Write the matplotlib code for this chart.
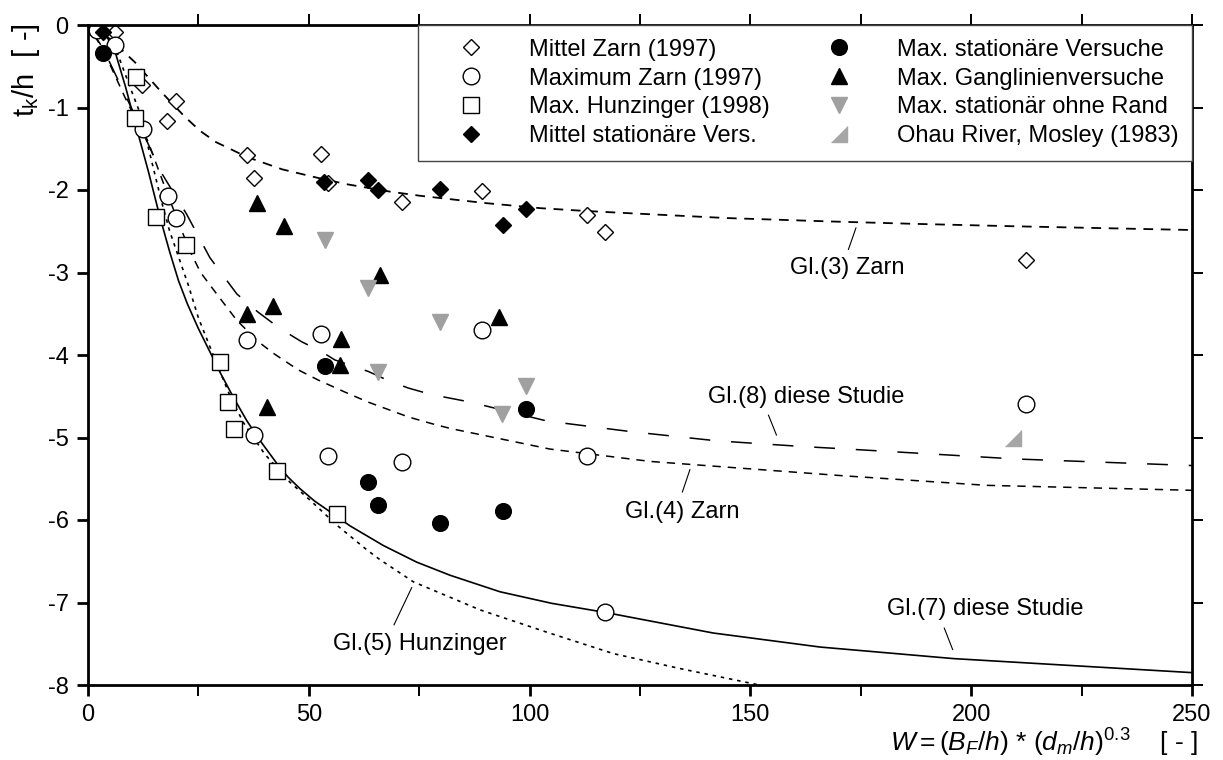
import matplotlib
matplotlib.use("Agg")
import matplotlib.pyplot as plt

plt.rcParams['font.family'] = ['Liberation Sans', 'DejaVu Sans']
plt.rcParams['mathtext.fontset'] = 'custom'
plt.rcParams['mathtext.rm'] = 'Liberation Sans'
plt.rcParams['mathtext.it'] = 'Liberation Sans:italic'
plt.rcParams['axes.unicode_minus'] = False
plt.rcParams['lines.scale_dashes'] = False

# measured points
mz_x = [2.0, 6.1, 12.2, 19.9, 18.0, 35.9, 37.6, 52.8, 54.3, 71.2, 89.3, 113.1, 117.1, 212.3]
mz_y = [0.0, -0.09, -0.73, -0.92, -1.16, -1.58, -1.85, -1.56, -1.91, -2.14, -2.01, -2.30, -2.51, -2.85]

maxz_x = [2.0, 6.1, 12.4, 18.2, 19.9, 36.1, 52.8, 37.7, 54.4, 71.2, 89.3, 113.1, 117.1, 212.3]
maxz_y = [-0.06, -0.24, -1.26, -2.07, -2.34, -3.82, -3.74, -4.97, -5.23, -5.30, -3.70, -5.22, -7.12, -4.60]

hunz_x = [10.9, 10.6, 15.3, 22.2, 29.9, 31.8, 33.1, 42.9, 56.3]
hunz_y = [-0.63, -1.13, -2.33, -2.67, -4.09, -4.57, -4.90, -5.41, -5.93]

mstat_x = [3.3, 53.5, 63.3, 65.6, 79.7, 99.1, 93.9]
mstat_y = [-0.09, -1.90, -1.88, -2.00, -1.99, -2.23, -2.42]

maxstat_x = [3.5, 53.7, 63.3, 65.7, 79.7, 94.0, 99.2]
maxstat_y = [-0.34, -4.13, -5.54, -5.82, -6.04, -5.89, -4.65]

gang_x = [38.3, 44.3, 35.9, 41.8, 57.4, 57.1, 40.5, 66.1, 93.1]
gang_y = [-2.16, -2.44, -3.50, -3.41, -3.80, -4.12, -4.63, -3.03, -3.54]

rand_x = [53.7, 63.3, 79.7, 65.7, 99.2, 93.8]
rand_y = [-2.60, -3.19, -3.60, -4.21, -4.38, -4.71]

ohau_x = [209.5]
ohau_y = [-5.01]

# curves
gl3_x = [0, 3, 6, 10.6, 16.4, 21.7, 25.3, 29.0, 36.0, 44.0, 51.8, 58.6, 68.4, 75.2, 83.5,
         90.3, 102.4, 111.4, 122, 144.6, 167.3, 186.9, 210, 250]
gl3_y = [0, -0.08, -0.22, -0.45, -0.80, -1.10, -1.28, -1.42, -1.60, -1.75, -1.85, -1.93, -2.02,
         -2.07, -2.12, -2.16, -2.22, -2.25, -2.28, -2.34, -2.38, -2.41, -2.44, -2.485]

gl4_x = [0, 3, 6, 9, 13.5, 18, 22.9, 25.5, 29, 33.7, 38.6, 42, 47.6, 52, 58.2, 63.4, 72.5,
         77.7, 82, 104.6, 127.3, 149.9, 170, 203.5, 250]
gl4_y = [0, -0.25, -0.6, -0.95, -1.4, -2.05, -2.72, -3.0, -3.25, -3.58, -3.84, -3.98, -4.18,
         -4.30, -4.45, -4.57, -4.75, -4.83, -4.89, -5.14, -5.29, -5.38, -5.46, -5.58, -5.64]

gl8_x = [0, 4, 8, 12, 16.5, 22.3, 27.6, 33.7, 38.5, 43.5, 48.4, 52.9, 55.9, 63.5, 67.6, 72.5,
         77.8, 86.5, 103.9, 123.1, 142.3, 162, 172, 210, 250]
gl8_y = [0, -0.35, -0.8, -1.25, -1.78, -2.29, -2.82, -3.26, -3.48, -3.68, -3.84, -3.96, -4.06,
         -4.20, -4.30, -4.40, -4.48, -4.57, -4.80, -4.93, -5.04, -5.11, -5.14, -5.26, -5.34]

gl7_x = [0, 2, 4, 6, 8.5, 11, 13.7, 16.3, 18.5, 20.5, 22.5, 25, 27.5, 30, 33, 36, 39, 42.7,
         45.3, 48, 51.3, 54.8, 59.3, 66.9, 74.4, 82, 93.3, 105, 117.1, 141.6, 165.8, 196, 250]
gl7_y = [0, -0.03, -0.12, -0.3, -0.75, -1.25, -1.78, -2.33, -2.75, -3.10, -3.38, -3.68, -3.95,
         -4.22, -4.52, -4.80, -5.04, -5.31, -5.48, -5.62, -5.77, -5.90, -6.07, -6.31, -6.51,
         -6.67, -6.87, -7.01, -7.12, -7.37, -7.54, -7.68, -7.85]

gl5_x = [0, 3, 6, 10, 11.8, 13.5, 16.7, 18.5, 22.7, 25, 29.1, 32.2, 35.2, 40, 45.7, 50.3, 56.3,
         63.1, 66.1, 73.7, 88.8, 103.9, 119, 134, 152]
gl5_y = [0, -0.05, -0.25, -0.82, -1.07, -1.45, -2.15, -2.5, -3.15, -3.55, -4.10, -4.5, -4.82,
         -5.2, -5.54, -5.76, -6.06, -6.36, -6.48, -6.75, -7.09, -7.36, -7.62, -7.80, -8.0]

fig = plt.figure(figsize=(12.23, 7.6), dpi=100)
ax = fig.add_axes([88/1223, 75/760, 1104/1223, 660/760])

ax.plot(gl3_x, gl3_y, color='black', lw=1.3, dashes=(7, 5.5))
ax.plot(gl4_x, gl4_y, color='black', lw=1.1, dashes=(6, 5))
ax.plot(gl8_x, gl8_y, color='black', lw=1.1, dashes=(15, 15))
ax.plot(gl7_x, gl7_y, color='black', lw=1.2)
ax.plot(gl5_x, gl5_y, color='black', lw=1.2, dashes=(2.5, 3.5))

gray = '#a0a0a0'
ms = 12
ax.plot(mz_x, mz_y, 'D', ms=8.2, mfc='white', mec='black', mew=1, ls='none', label='Mittel Zarn (1997)')
ax.plot(maxz_x, maxz_y, 'o', ms=ms, mfc='white', mec='black', mew=1, ls='none', label='Maximum Zarn (1997)')
ax.plot(hunz_x, hunz_y, 's', ms=ms, mfc='white', mec='black', mew=1, ls='none', label='Max. Hunzinger (1998)')
ax.plot(mstat_x, mstat_y, 'D', ms=8.2, color='black', ls='none', label='Mittel stationäre Vers.')
ax.plot(maxstat_x, maxstat_y, 'o', ms=11.3, color='black', ls='none', label='Max. stationäre Versuche')
ax.plot(gang_x, gang_y, '^', ms=ms, color='black', ls='none', label='Max. Ganglinienversuche')
ax.plot(rand_x, rand_y, 'v', ms=ms, color=gray, ls='none', label='Max. stationär ohne Rand')
ax.plot(ohau_x, ohau_y, marker=[(-1, -1), (1, -1), (1, 1)], ms=ms, color='#a6a6a6', ls='none',
        label='Ohau River, Mosley (1983)')

leg = ax.legend(ncol=2, loc='upper right', bbox_to_anchor=(1, 1), borderaxespad=0,
                fancybox=False, framealpha=1, edgecolor='#444444', fontsize=17,
                numpoints=1, handlelength=3.32, handletextpad=0.8, columnspacing=1.25,
                labelspacing=0.29, borderpad=0.58)
leg.get_frame().set_linewidth(1.0)

# curve labels with leader lines
labels = [
    ('Gl.(3) Zarn', 172, -2.95, [173.9, 172.2], [-2.46, -2.72]),
    ('Gl.(8) diese Studie', 162.7, -4.505, [154.1, 155.9], [-4.73, -4.97]),
    ('Gl.(4) Zarn', 134.6, -5.9, [136.3, 134.6], [-5.39, -5.66]),
    ('Gl.(7) diese Studie', 203.2, -7.08, [193.9, 195.8], [-7.31, -7.57]),
    ('Gl.(5) Hunzinger', 75.2, -7.5, [73.3, 69.3], [-6.82, -7.27]),
]
for txt, tx, ty, lx, ly in labels:
    ax.plot(lx, ly, color='black', lw=0.8)
    ax.text(tx, ty, txt, fontsize=17, ha='center', va='center')

ax.set_xlim(0, 250)
ax.set_ylim(-8, 0)
ax.set_xticks([0, 50, 100, 150, 200, 250])
ax.set_xticks([25, 75, 125, 175, 225], minor=True)
ax.set_yticks(range(-8, 1))
for s in ax.spines.values():
    s.set_linewidth(2)
ax.tick_params(which='major', direction='out', length=8, width=2, labelsize=17, pad=6)
ax.tick_params(which='minor', direction='out', length=8, width=1.4)

top = ax.secondary_xaxis('top')
top.set_xticks([25, 50, 75, 100, 125, 150, 175, 200, 225, 250])
top.tick_params(direction='out', length=8, width=1.4, labeltop=False)
right = ax.secondary_yaxis('right')
right.set_yticks(range(-8, 1))
right.tick_params(direction='out', length=8, width=1.4, labelright=False)

fig.text(10/1223, 1 - 23/760, r'$\mathregular{t_k/h}$  [ -]', rotation=90,
         ha='left', va='top', fontsize=21)
fig.text(1198/1223, 8/760, r'$W = (B_F/h)$ * $(d_m/h)^{0.3}$    [ - ]',
         ha='right', va='baseline', fontsize=19)

fig.savefig('out.png', dpi=100)
